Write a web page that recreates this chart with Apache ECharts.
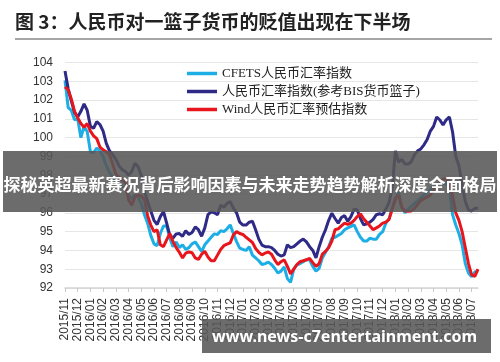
<!DOCTYPE html>
<html><head><meta charset="utf-8">
<script src="https://cdn.jsdelivr.net/npm/echarts@6/dist/echarts.min.js"></script>
<style>html,body{margin:0;padding:0;background:#fff}#c{width:500px;height:362px}</style>
</head><body><div id="c"></div>
<script>
const months = ['2015/11','2015/12','2016/01','2016/02','2016/03','2016/04','2016/05','2016/06','2016/07','2016/08','2016/09','2016/10','2016/11','2016/12','2017/01','2017/02','2017/03','2017/04','2017/05','2017/06','2017/07','2017/08','2017/09','2017/10','2017/11','2017/12','2018/01','2018/02','2018/03','2018/04','2018/05','2018/06','2018/07'];
const STEP = 0.25; // weekly-ish samples, in months from 2015/11
const seriesNames = ['CFETS人民币汇率指数','人民币汇率指数(参考BIS货币篮子)','Wind人民币汇率预估指数'];
const cfets = [
103.05,101.6,101.45,100.95, 101.0,100.0,100.6,100.32, 99.25,99.2,99.44,99.3, 98.99,98.5,98.15,97.9,
97.7,97.5,97.4,97.3, 96.95,96.75,96.95,96.85, 96.5,95.9,95.45,94.8, 94.35,94.25,94.9,95.3,
95.3,94.65,94.2,94.45, 94.15,94.3,94.05,94.15, 94.35,94.45,94.2,93.94, 94.3,94.5,94.7,94.88,
94.85,95.05,95.0,95.15, 95.36,94.9,94.47,94.12, 94.05,94.0,94.2,93.75, 93.6,93.45,93.25,93.3,
93.38,93.25,93.05,92.8, 92.9,93.12,92.5,92.3, 93.0,93.23,93.3,93.4, 93.5,93.5,93.15,92.9,
93.05,93.6,93.9,94.2, 94.65,94.7,94.8,94.9, 95.1,95.2,95.28,95.36, 95.0,94.7,94.5,94.5,
94.65,94.6,94.6,94.85, 95.0,95.45,95.68,96.25, 96.75,97.1,96.3,96.0, 96.2,96.35,96.5,96.65,
96.8,96.95,97.1,97.2, 97.4,97.5,97.6,97.55, 97.6,97.3,95.9,95.35, 94.9,94.3,93.3,92.8,
92.6,92.85,92.9];
const bis = [
103.55,102.6,101.95,101.35, 101.1,101.4,101.8,101.45, 100.6,100.5,100.85,100.7, 100.35,99.7,99.3,99.1,
98.85,98.5,98.3,98.2, 98.0,98.2,98.64,98.45, 98.0,97.15,96.6,96.1, 95.6,95.38,95.8,96.07,
95.45,94.8,94.65,94.88, 94.9,94.75,95.05,94.85, 94.95,95.25,95.1,94.75, 95.2,95.9,96.05,96.0,
95.9,96.4,96.3,96.5, 96.6,96.25,96.0,95.5, 95.35,95.35,95.5,95.55, 95.1,94.6,94.28,94.2,
94.2,94.15,94.0,93.8, 93.7,93.76,94.3,94.15, 94.2,94.35,94.5,94.6, 94.45,94.2,94.0,93.6,
94.2,94.7,95.1,95.6, 95.98,95.7,95.45,95.75, 95.85,95.55,95.8,96.2, 96.15,95.7,95.36,95.42,
95.5,95.65,95.9,95.95, 95.9,96.2,96.55,97.3, 99.3,98.7,98.85,98.6, 98.6,98.72,99.08,99.3,
99.4,99.62,99.9,100.35, 100.6,101.1,100.94,100.67, 100.95,101.1,100.3,99.0, 98.5,97.5,96.6,96.15,
96.1,96.24,96.24];
const wind = [
102.7,102.55,102.05,101.4, 101.05,100.75,100.55,100.75, 100.35,100.1,99.95,99.5, 99.35,99.25,99.1,98.6,
98.05,97.9,97.75,97.6, 96.7,96.4,96.85,96.95, 96.9,96.7,95.85,95.35, 95.0,95.1,94.3,94.2,
94.56,94.9,94.47,94.15, 93.9,93.6,93.85,93.92, 93.88,93.6,93.52,93.8, 93.95,93.65,93.45,93.45,
93.75,94.05,94.25,94.33, 94.4,94.82,95.0,94.9, 94.85,94.7,94.56,94.42, 94.1,93.9,93.76,93.86,
93.92,93.8,93.5,93.25, 93.4,93.5,93.15,92.75, 93.0,93.25,93.4,93.45, 93.5,93.58,93.35,93.15,
93.3,93.8,93.95,94.15, 94.5,95.1,95.15,95.3, 95.45,95.38,95.45,95.6, 95.8,95.95,95.68,95.5,
95.3,95.1,95.2,95.3, 95.45,95.5,95.65,96.2, 96.75,96.95,96.3,96.1, 96.08,96.1,96.24,96.45,
96.65,96.75,96.85,96.95, 97.2,97.45,97.66,97.8, 97.8,97.66,96.9,96.0, 95.6,95.0,94.15,93.3,
92.7,92.62,93.0];
const yTicks = [92,93,94,95,96,97,98,99,100,101,102,103,104];
const titleText = '图 3：人民币对一篮子货币的贬值出现在下半场';
const bannerText = '探秘英超最新赛况背后影响因素与未来走势趋势解析深度全面格局';
const footerText = 'www.news-c7entertainment.com';

const colors = ['#1eaee6','#2e2a86','#e8161c'];
const toXY = arr => arr.map((v,i)=>[i*STEP, v]);
const chart = echarts.init(document.getElementById('c'), null, {renderer:'canvas'});
chart.setOption({
  animation:false,
  backgroundColor:'#fff',
  color: colors,
  grid:{left:65, right:22, top:62.5, bottom:74, containLabel:false},
  legend:{
    orient:'vertical', left:182, top:62, icon:'rect', itemWidth:30, itemHeight:3.5, itemGap:5,
    textStyle:{fontFamily:'"Liberation Serif","Noto Sans CJK SC",serif', fontSize:13, color:'#222'},
    data: seriesNames
  },
  xAxis:{
    type:'value', min:0, max:32.5, interval:1,
    axisLine:{show:true, lineStyle:{color:'#d4d4d4', width:1.5}},
    axisTick:{show:true, length:4, lineStyle:{color:'#c8c8c8'}},
    splitLine:{show:false},
    axisLabel:{rotate:90, margin:10, fontSize:12, color:'#333', fontFamily:'"Liberation Sans",Arial,sans-serif',
      showMaxLabel:false,
      formatter: v => (Number.isInteger(v) && months[v]) ? months[v] : ''}
  },
  yAxis:{
    type:'value', min:yTicks[0], max:yTicks[yTicks.length-1], interval:1,
    axisLine:{show:false}, axisTick:{show:false},
    splitLine:{lineStyle:{color:'#e6e6e6', width:1}},
    axisLabel:{margin:12, fontSize:12, color:'#333', fontFamily:'"Liberation Sans",Arial,sans-serif'}
  },
  series:[
    {name:seriesNames[0], type:'line', symbol:'none', data:toXY(cfets), lineStyle:{width:3, color:colors[0]}},
    {name:seriesNames[1], type:'line', symbol:'none', data:toXY(bis), lineStyle:{width:3, color:colors[1]}},
    {name:seriesNames[2], type:'line', symbol:'none', data:toXY(wind), lineStyle:{width:3, color:colors[2]}}
  ],
  graphic:[
    {type:'text', left:15, top:12, z:100, style:{text:titleText, font:'bold 19px "Noto Sans CJK SC"', fill:'#222'}},
    {type:'rect', shape:{x:15, y:38, width:477, height:2}, z:100, style:{fill:'#a6a6a6'}},
    {type:'rect', shape:{x:3, y:151, width:494, height:61}, z:100, style:{fill:'rgba(88,88,88,0.88)'}},
    {type:'text', x:250, y:185, z:101, style:{text:bannerText, font:'bold 17px "Noto Sans CJK SC"', fill:'#fff', align:'center', verticalAlign:'middle'}},
    {type:'rect', shape:{x:202, y:319, width:289, height:34}, z:100, style:{fill:'rgba(88,88,88,0.88)'}},
    {type:'text', x:212, y:337, z:101, style:{text:footerText, font:'bold 16px "Noto Sans"', fill:'#fff', align:'left', verticalAlign:'middle'}}
  ]
});
</script></body></html>
